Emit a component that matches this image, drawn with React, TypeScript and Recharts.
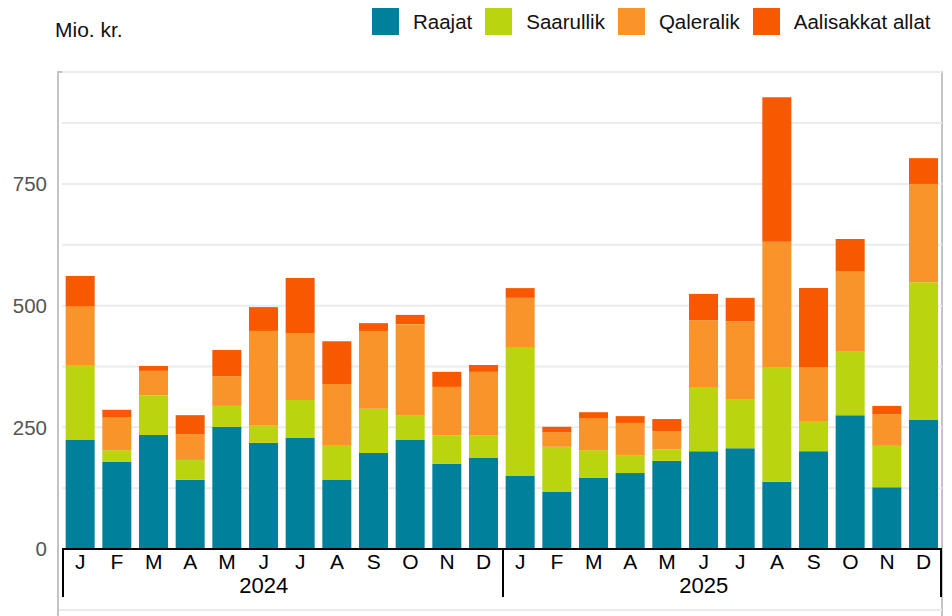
import React from 'react';
import { BarChart, Bar, XAxis, YAxis, CartesianGrid, Legend } from 'recharts';

const months = ['J', 'F', 'M', 'A', 'M', 'J', 'J', 'A', 'S', 'O', 'N', 'D'];
const years = ['2024', '2025'];

const raajat = [224, 179, 234, 142, 251, 218, 228, 142, 197, 224, 175, 187, 150, 117, 146, 156, 181, 201, 207, 138, 201, 275, 127, 265];
const saarullik = [154, 24, 82, 41, 43, 35, 78, 70, 91, 51, 59, 47, 265, 93, 57, 37, 24, 132, 101, 236, 62, 130, 85, 283];
const qaleralik = [121, 68, 50, 53, 61, 195, 138, 127, 160, 187, 99, 130, 101, 30, 66, 66, 37, 137, 160, 257, 111, 166, 65, 202];
const aalisakkat = [62, 15, 10, 39, 54, 49, 113, 88, 16, 19, 31, 14, 20, 11, 12, 14, 25, 54, 48, 297, 162, 66, 17, 53];

const yTicks = [0, 125, 250, 375, 500, 625, 750, 875];

const series = [
  { key: 'raajat', name: 'Raajat', color: '#00809a', values: raajat },
  { key: 'saarullik', name: 'Saarullik', color: '#bad40f', values: saarullik },
  { key: 'qaleralik', name: 'Qaleralik', color: '#f89429', values: qaleralik },
  { key: 'aalisakkat', name: 'Aalisakkat allat', color: '#f85800', values: aalisakkat },
];

const data = years.flatMap((y, yi) =>
  months.map((m, mi) => {
    const i = yi * 12 + mi;
    const row: any = { key: `${y}-${mi}`, month: m, year: y };
    series.forEach((s) => { row[s.key] = s.values[i]; });
    return row;
  })
);

const FONT = '"Liberation Sans", Arial, sans-serif';
const W = 952;
const H = 616;
const PLOT_LEFT = 62;
const PLOT_RIGHT = 942;
const BAND = (PLOT_RIGHT - PLOT_LEFT) / data.length;

const MonthTick = (props: any) => {
  const { x, y, payload } = props;
  const idx = payload.index;
  const row = data[idx];
  const mi = idx % 12;
  return (
    <g>
      <text x={x} y={y} dy={20} textAnchor="middle" fontSize={21} fill="#000" fontFamily={FONT}>{row.month}</text>
      {mi === 5 && (
        <text x={x} y={y} dy={44} textAnchor="middle" fontSize={22} fill="#000" fontFamily={FONT}>{row.year}</text>
      )}
      {mi === 0 && <line x1={x - BAND / 2 + 1} x2={x - BAND / 2 + 1} y1={y} y2={y + 48} stroke="#000" strokeWidth={2} />}
      {idx === data.length - 1 && <line x1={x + BAND / 2 - 1} x2={x + BAND / 2 - 1} y1={y} y2={y + 48} stroke="#000" strokeWidth={2} />}
    </g>
  );
};

const LegendContent = (props: any) => {
  const payload = props.payload || [];
  const ordered = series.map((s) => payload.find((p: any) => p.dataKey === s.key) || { value: s.name, color: s.color });
  return (
    <div style={{ display: 'flex', alignItems: 'center', fontFamily: FONT, fontSize: 20.5, color: '#111' }}>
      {ordered.map((p: any, i: number) => (
        <div key={i} style={{ display: 'flex', alignItems: 'center', marginRight: 13 }}>
          <div style={{ width: 27, height: 27, background: p.color, marginRight: 14 }} />
          <span style={{ whiteSpace: 'nowrap' }}>{p.value}</span>
        </div>
      ))}
    </div>
  );
};

export default function App() {
  return (
    <div style={{ position: 'fixed', left: 0, top: 0, width: W, height: H, overflow: 'hidden', background: '#fff' }}>
      <div style={{ position: 'absolute', left: 57, top: 71, width: 886, height: 600, border: '2px solid #c4c4c4', boxSizing: 'border-box' }} />
      <div style={{ position: 'absolute', left: 59, top: 609, width: 883, height: 2, background: '#ebebeb' }} />
      <div style={{ position: 'absolute', left: 55, top: 19, fontFamily: FONT, fontSize: 21, lineHeight: '21px', color: '#111' }}>Mio. kr.</div>
      <div style={{ position: 'absolute', left: 0, top: 0 }}>
        <BarChart
          width={W}
          height={H}
          data={data}
          margin={{ top: 72, right: W - PLOT_RIGHT, bottom: 7, left: 0 }}
          barCategoryGap="10%"
        >
          <CartesianGrid vertical={false} stroke="#ebebeb" strokeWidth={2} />
          <XAxis
            dataKey="key"
            height={60}
            interval={0}
            tickLine={false}
            tickSize={0}
            tickMargin={0}
            axisLine={{ stroke: '#000', strokeWidth: 2 }}
            tick={<MonthTick />}
          />
          <YAxis
            width={PLOT_LEFT}
            domain={[0, 980]}
            ticks={yTicks}
            interval={0}
            allowDataOverflow
            axisLine={false}
            tickLine={false}
            tickSize={6}
            tickMargin={9}
            tickFormatter={(v: number) => (v % 250 === 0 ? String(v) : '')}
            tick={{ fill: '#555', fontSize: 20.5, fontFamily: FONT }}
          />
          <Legend
            layout="horizontal"
            verticalAlign="middle"
            align="center"
            content={<LegendContent />}
            wrapperStyle={{ top: 8, left: 372, width: 'auto', height: 'auto' }}
          />
          {series.map((s) => (
            <Bar key={s.key} dataKey={s.key} name={s.name} stackId="a" fill={s.color} isAnimationActive={false} />
          ))}
        </BarChart>
      </div>
    </div>
  );
}
